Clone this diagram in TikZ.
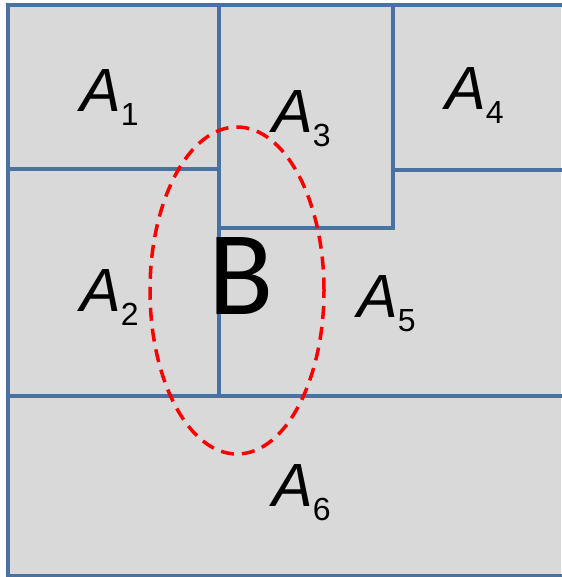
\documentclass[tikz,border=0pt]{standalone}
\usepackage{fontspec}
\setmainfont{Liberation Sans}
\newfontfamily\bfam{Carlito}
\definecolor{cellgray}{HTML}{D9D9D9}
\definecolor{edgeblue}{HTML}{4A72A0}
\begin{document}
\begin{tikzpicture}[x=1pt,y=1pt,
  edge/.style={draw=edgeblue,line width=3.6pt,line cap=rect},
  edgethick/.style={draw=edgeblue,line width=4.6pt,line cap=rect},
  lab/.style={anchor=base west,inner sep=0pt,font=\fontsize{61}{61}\selectfont},
  bigb/.style={anchor=base west,inner sep=0pt,font=\bfam\fontsize{120}{120}\selectfont},
  region/.style={draw=red,line width=3.5pt,dash pattern=on 13pt off 8pt}]
\newcommand{\alab}[1]{\textit{A}\hspace{0pt}\raisebox{-14pt}{\fontsize{32}{32}\selectfont #1}}
\useasboundingbox (0,0) rectangle (561,577);
\fill[white] (0,0) rectangle (561,577);
\fill[cellgray] (8,0) rectangle (561,572);
% partition lines (y = 577 - image y)
\draw[edge] (8,572) -- (561,572);
\draw[edgethick] (8,572) -- (8,0);
\draw[edge] (219,572) -- (219,181);
\draw[edgethick] (8,408) -- (219,408);
\draw[edge] (393,572) -- (393,349);
\draw[edge] (219,349) -- (393,349);
\draw[edge] (393,407) -- (561,407);
\draw[edge] (8,181) -- (561,181);
\draw[edge] (8,1) -- (561,1);
% labels
\node[lab] (a1) at (80,465) {\alab{1}};
\node[lab] (a3) at (272,444) {\alab{3}};
\node[lab] (a4) at (445,467) {\alab{4}};
\node[lab] (a2) at (80,265) {\alab{2}};
\node[lab] (a5) at (357,259) {\alab{5}};
\node[lab] (a6) at (272,70) {\alab{6}};
\node[bigb] (b) at (208,262) {B};
% region B
\draw[region] (237,286.5) ellipse [x radius=87, y radius=163.5];
\end{tikzpicture}
\end{document}
